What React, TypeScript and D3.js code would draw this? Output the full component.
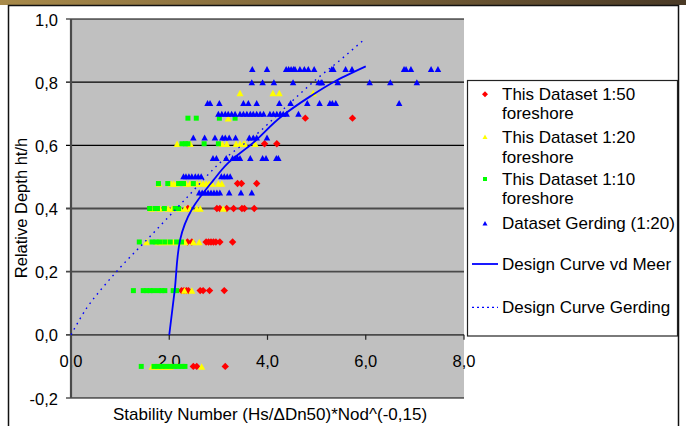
import React from "react";
import * as d3 from "d3";

// ---- data (x = stability number, y = relative depth) ----
type Row = { y: number; x: number[] };

const xTicks = [0, 2, 4, 6, 8];
const yTicks = [-0.2, 0, 0.2, 0.4, 0.6, 0.8, 1.0];

const ds150: Row[] = [
  { y: -0.1, x: [2.49, 2.56, 3.14] },
  { y: 0.14, x: [2.25, 2.3, 2.35, 2.39, 2.63, 2.69, 2.82, 3.12] },
  { y: 0.294, x: [2.37, 2.46, 2.75, 2.8, 2.85, 2.9, 2.95, 3.03, 3.29] },
  { y: 0.4, x: [2.38, 2.97, 3.03, 3.17, 3.31, 3.48, 3.53, 3.73] },
  { y: 0.479, x: [3.39, 3.47, 3.78] },
  { y: 0.605, x: [3.94, 4.19] },
  { y: 0.686, x: [4.77, 5.73] },
];

const ds120: Row[] = [
  { y: -0.1, x: [1.65, 1.73, 1.81, 1.91, 2.02, 2.66] },
  { y: 0.14, x: [2.31, 2.46] },
  { y: 0.294, x: [1.54, 1.77, 1.85, 1.96, 2.08, 2.18, 2.32, 2.49, 2.61] },
  { y: 0.4, x: [1.64, 1.81, 1.98, 2.06, 2.22, 2.32, 2.42, 2.56, 2.63, 3.1] },
  { y: 0.479, x: [1.79, 2.04, 2.09, 2.15, 2.34, 2.42, 2.57, 2.63, 2.69, 2.75, 2.81, 2.87, 3.0, 3.07] },
  { y: 0.605, x: [2.16, 2.43, 3.08, 3.17, 3.36, 3.44, 3.51, 3.54, 3.75] },
  { y: 0.686, x: [3.2] },
  { y: 0.766, x: [3.44, 4.11, 4.24, 4.93] },
];

const ds110: Row[] = [
  { y: -0.1, x: [1.43, 1.69, 1.77, 1.85, 1.93, 2.02, 2.1, 2.18, 2.26, 2.32] },
  { y: 0.14, x: [1.27, 1.47, 1.54, 1.61, 1.68, 1.78, 1.85, 1.91, 2.08, 2.15] },
  { y: 0.294, x: [1.39, 1.65, 1.73, 1.81, 1.91, 2.02, 2.15, 2.25] },
  { y: 0.4, x: [1.6, 1.71, 1.76, 1.9, 2.12, 2.19] },
  { y: 0.479, x: [1.78, 1.97, 2.19, 2.26, 2.29, 2.49] },
  { y: 0.605, x: [2.26, 2.33, 2.38, 2.71, 3.0] },
  { y: 0.686, x: [2.38, 2.55, 3.02, 3.34] },
];

const dsGerding: Row[] = [
  { y: 0.451, x: [2.61, 2.67, 2.73, 2.79, 2.85, 2.91, 2.97, 3.03, 3.22, 3.46, 3.68] },
  { y: 0.502, x: [2.29, 2.34, 2.4, 2.46, 2.53, 2.59, 2.65, 3.06, 3.12, 3.18, 3.24] },
  { y: 0.56, x: [2.89, 2.96, 3.16, 3.29, 3.34, 3.39, 3.44, 3.65, 3.9, 3.97, 4.18, 4.22] },
  { y: 0.625, x: [2.49, 2.72, 2.93, 3.08, 3.14, 3.22, 3.35, 3.63, 3.71, 3.78, 3.99] },
  { y: 0.7, x: [3.0, 3.07, 3.14, 3.2, 3.27, 3.34, 3.44, 3.51, 3.58, 3.65, 3.71, 3.78, 3.85, 3.92, 4.05, 4.12, 4.19, 4.26, 4.32, 4.39, 4.63] },
  { y: 0.734, x: [2.78, 2.83, 3.02, 3.51, 3.61, 3.78, 4.24, 4.47, 4.81, 5.06, 5.27, 5.32, 5.39, 6.68] },
  { y: 0.8, x: [3.68, 3.9, 4.13, 4.52, 5.04, 5.09, 5.11, 5.43, 6.08, 6.5, 7.04] },
  { y: 0.842, x: [3.69, 3.99, 4.38, 4.43, 4.48, 4.53, 4.56, 4.66, 4.75, 4.83, 4.95, 5.31, 5.34, 5.59, 5.72, 6.78, 6.82, 6.92, 7.33, 7.47] },
];

const curveVdMeer: [number, number][] = [
  [2.0, 0.0], [2.11, 0.14], [2.22, 0.3], [2.47, 0.4], [2.9, 0.49], [3.17, 0.54],
  [3.7, 0.607], [4.29, 0.692], [4.87, 0.755], [5.34, 0.8], [6.0, 0.85],
];

const curveGerding: [number, number][] = [
  [0, 0], [0.32, 0.085], [0.62, 0.145], [0.96, 0.206], [1.6, 0.31], [2.36, 0.435], [3.0, 0.54],
  [3.85, 0.645], [4.39, 0.724], [5.0, 0.81], [5.48, 0.87], [5.93, 0.93],
];

const legendLabels = [
  ["This Dataset 1:50", "foreshore"],
  ["This Dataset 1:20", "foreshore"],
  ["This Dataset 1:10", "foreshore"],
  ["Dataset Gerding (1:20)"],
  ["Design Curve vd Meer"],
  ["Design Curve Gerding"],
];

const FONT = "'Liberation Sans', Arial, Helvetica, sans-serif";
const BLUE = "#0000FF";

const x = d3.scaleLinear().domain([0, 8]).range([71, 464]);
const y = d3.scaleLinear().domain([-0.2, 1.0]).range([398, 19]);

const flat = (rows: Row[]) => rows.flatMap((r) => r.x.map((v) => [v, r.y] as [number, number]));

const diamond = (cx: number, cy: number, r: number) =>
  `M${cx},${cy - r}L${cx + r},${cy}L${cx},${cy + r}L${cx - r},${cy}Z`;
const tri = (cx: number, cy: number, w: number, h: number) =>
  `M${cx},${cy - h / 2}L${cx + w / 2},${cy + h / 2}L${cx - w / 2},${cy + h / 2}Z`;

export default function App() {
  const lineY = d3
    .line<[number, number]>()
    .x((d) => x(d[0]))
    .y((d) => y(d[1]))
    .curve(d3.curveMonotoneY);
  const lineX = d3
    .line<[number, number]>()
    .x((d) => x(d[0]))
    .y((d) => y(d[1]))
    .curve(d3.curveMonotoneX);

  const fmt = (v: number) => v.toFixed(1).replace(".", ",");

  return (
    <svg
      width={686}
      height={426}
      style={{ position: "absolute", left: 0, top: 0, background: "#fff" }}
      fontFamily={FONT}
    >
      <defs>
        <linearGradient id="band" x1="0" x2="1">
          <stop offset="0" stopColor="#a88a4a" />
          <stop offset="0.5" stopColor="#7a6238" />
          <stop offset="1" stopColor="#4a3a26" />
        </linearGradient>
      </defs>
      <rect x={0} y={0} width={686} height={5} fill="url(#band)" />
      <rect x={8.5} y={5.5} width={670} height={440} fill="#fff" stroke="#111" strokeWidth={1.5} />

      {/* plot area */}
      <rect x={x(0)} y={y(1)} width={x(8) - x(0)} height={y(-0.2) - y(1)} fill="#C0C0C0" />

      {/* gridlines */}
      {yTicks.map((t) => {
        const low = t >= -0.01 && t <= 0.41;
        return (
          <line
            key={t}
            x1={66}
            x2={x(8)}
            y1={y(t)}
            y2={y(t)}
            stroke={low ? "#4a4a4a" : "#000"}
            strokeWidth={low ? 1.8 : 1.1}
          />
        );
      })}

      {/* x ticks */}
      {xTicks.map((t) => (
        <line key={t} x1={x(t)} x2={x(t)} y1={y(0)} y2={y(0) + 5} stroke="#222" strokeWidth={1.2} />
      ))}

      {/* tick labels */}
      {yTicks.map((t) => (
        <text key={t} x={58} y={y(t) + 6.5} textAnchor="end" fontSize={16.5} fill="#000">
          {fmt(t)}
        </text>
      ))}
      {xTicks.map((t) => (
        <text key={t} x={x(t)} y={367} textAnchor="middle" fontSize={16.5} fill="#000">
          {fmt(t)}
        </text>
      ))}

      {/* left axis */}
      <line x1={x(0)} x2={x(0)} y1={y(1)} y2={y(-0.2)} stroke="#4a4a4a" strokeWidth={2.2} />

      {/* axis titles */}
      <text
        transform={`translate(27,208) rotate(-90)`}
        textAnchor="middle"
        fontSize={16.5}
        fill="#000"
      >
        Relative Depth ht/h
      </text>
      <text x={270} y={420} textAnchor="middle" fontSize={17} fill="#000">
        Stability Number (Hs/ΔDn50)*Nod^(-0,15)
      </text>

      {/* markers */}
      {flat(ds150).map((d, i) => (
        <path key={"r" + i} d={diamond(x(d[0]), y(d[1]), 3.7)} fill="#FF0000" />
      ))}
      {flat(ds120).map((d, i) => (
        <path key={"yl" + i} d={tri(x(d[0]), y(d[1]), 7, 6.5)} fill="#FFFF00" />
      ))}
      {flat(ds110).map((d, i) => (
        <rect key={"g" + i} x={x(d[0]) - 2.5} y={y(d[1]) - 2.5} width={5} height={5} fill="#00FF00" />
      ))}
      {flat(dsGerding).map((d, i) => (
        <path key={"b" + i} d={tri(x(d[0]), y(d[1]), 6.5, 6)} fill={BLUE} />
      ))}

      {/* curves */}
      <path d={lineX(curveGerding) || ""} fill="none" stroke={BLUE} strokeWidth={1.4} strokeDasharray="1.6,4.4" />
      <path d={lineY(curveVdMeer) || ""} fill="none" stroke={BLUE} strokeWidth={1.8} />

      {/* legend */}
      <rect x={467.5} y={80.5} width={210} height={255.5} fill="#fff" stroke="#222" strokeWidth={1.2} />
      {(() => {
        const lines = [
          [94.3, 113.3],
          [136.7, 156.7],
          [179, 197.7],
          [223.3],
          [264],
          [307.3],
        ];
        return legendLabels.map((lbls, i) => (
          <g key={i}>
            {lbls.map((s, j) => (
              <text key={j} x={502} y={lines[i][j] + 6} fontSize={17} fill="#000">
                {s}
              </text>
            ))}
          </g>
        ));
      })()}
      <path d={diamond(485, 94.3, 3)} fill="#FF0000" />
      <path d={tri(485, 136.7, 5, 4.5)} fill="#FFFF00" />
      <rect x={483} y={177} width={4} height={4} fill="#00FF00" />
      <path d={tri(485, 223.3, 5, 4.5)} fill={BLUE} />
      <line x1={472} x2={498} y1={264} y2={264} stroke={BLUE} strokeWidth={1.8} />
      <line x1={472} x2={498} y1={307.3} y2={307.3} stroke={BLUE} strokeWidth={1.2} strokeDasharray="2,3" />
    </svg>
  );
}
